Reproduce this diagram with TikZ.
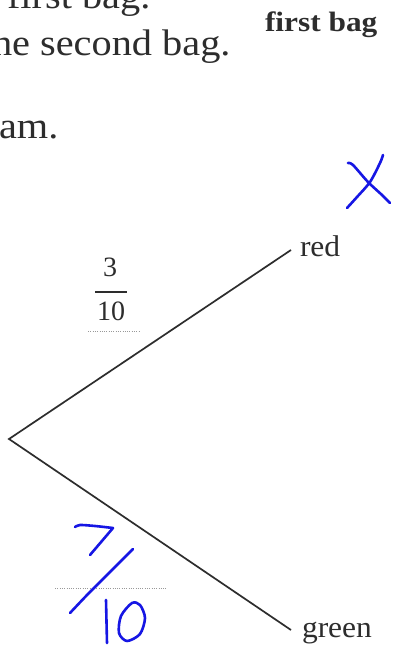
\documentclass[tikz,border=0pt]{standalone}
\usepackage{graphicx}
\usepackage{fontspec}
\setmainfont{Liberation Serif}
\definecolor{handblue}{RGB}{22,22,228}
\definecolor{inkgray}{RGB}{45,45,45}
\begin{document}
\begin{tikzpicture}[x=1pt,y=-1pt,
  txt/.style={anchor=base west, inner sep=0pt, outer sep=0pt, text=inkgray},
  ctxt/.style={anchor=base, inner sep=0pt, outer sep=0pt, text=inkgray},
  branch/.style={draw=inkgray, line width=1.7pt},
  hand/.style={draw=handblue, line width=2.6pt, line cap=round, line join=round},
  dots/.style={draw=black!40, line width=0.8pt, dash pattern=on 1pt off 1.3pt}]
\useasboundingbox (0,0) rectangle (394,652);
\clip (0,0) rectangle (394,652);
\fill[white] (0,0) rectangle (394,652);

% question text
\node[txt] (l1) at (7,9) {\fontsize{37}{40}\selectfont\scalebox{1.09}[1]{first bag.}};
\node[txt] (l2) at (-8,56) {\fontsize{37}{40}\selectfont\scalebox{1.09}[1]{he second bag.}};
\node[txt] (l3) at (-1,139) {\fontsize{37}{40}\selectfont\scalebox{1.09}[1]{am.}};
\node[txt] (hdr) at (265,32) {\fontsize{28}{30}\selectfont\bfseries\scalebox{1.12}[1]{first bag}};

% tree
\coordinate (root) at (9,439);
\coordinate (redend) at (291,250);
\coordinate (greenend) at (291,630);
\draw[branch, line join=miter] (redend) -- (root) -- (greenend);
\node[txt] (red) at (300,256) {\fontsize{30}{32}\selectfont\scalebox{1.05}[1]{red}};
\node[txt] (green) at (302,637) {\fontsize{30}{32}\selectfont\scalebox{1.05}[1]{green}};

% printed fraction 3/10
\node[ctxt] (num) at (110,276) {\fontsize{28}{30}\selectfont 3};
\draw[inkgray, line width=1.5pt] (95,292) -- (127,292);
\node[ctxt] (den) at (111,320) {\fontsize{28}{30}\selectfont 10};
\draw[dots] (88,331) -- (140,331);

% dotted answer line, lower branch
\draw[dots] (55,588) -- (167,588);

% handwritten 7/10
\draw[hand] plot[smooth] coordinates {(75,527) (80,525) (95,526) (113,528)} -- (90,555);
\draw[hand] plot[smooth] coordinates {(133,549) (110,572) (88,594) (70,613)};
\draw[hand] (106,600) -- (107,643);
\draw[hand] plot[smooth cycle] coordinates {(132,603) (121,616) (119,633) (127,641) (140,634) (145,618) (140,605)};

% handwritten X
\draw[hand] plot[smooth] coordinates {(348,163) (353,165) (368,182) (382,195) (390,203)};
\draw[hand] plot[smooth] coordinates {(383,155) (380,163) (370,182) (357,197) (347,208)};
\end{tikzpicture}
\end{document}
